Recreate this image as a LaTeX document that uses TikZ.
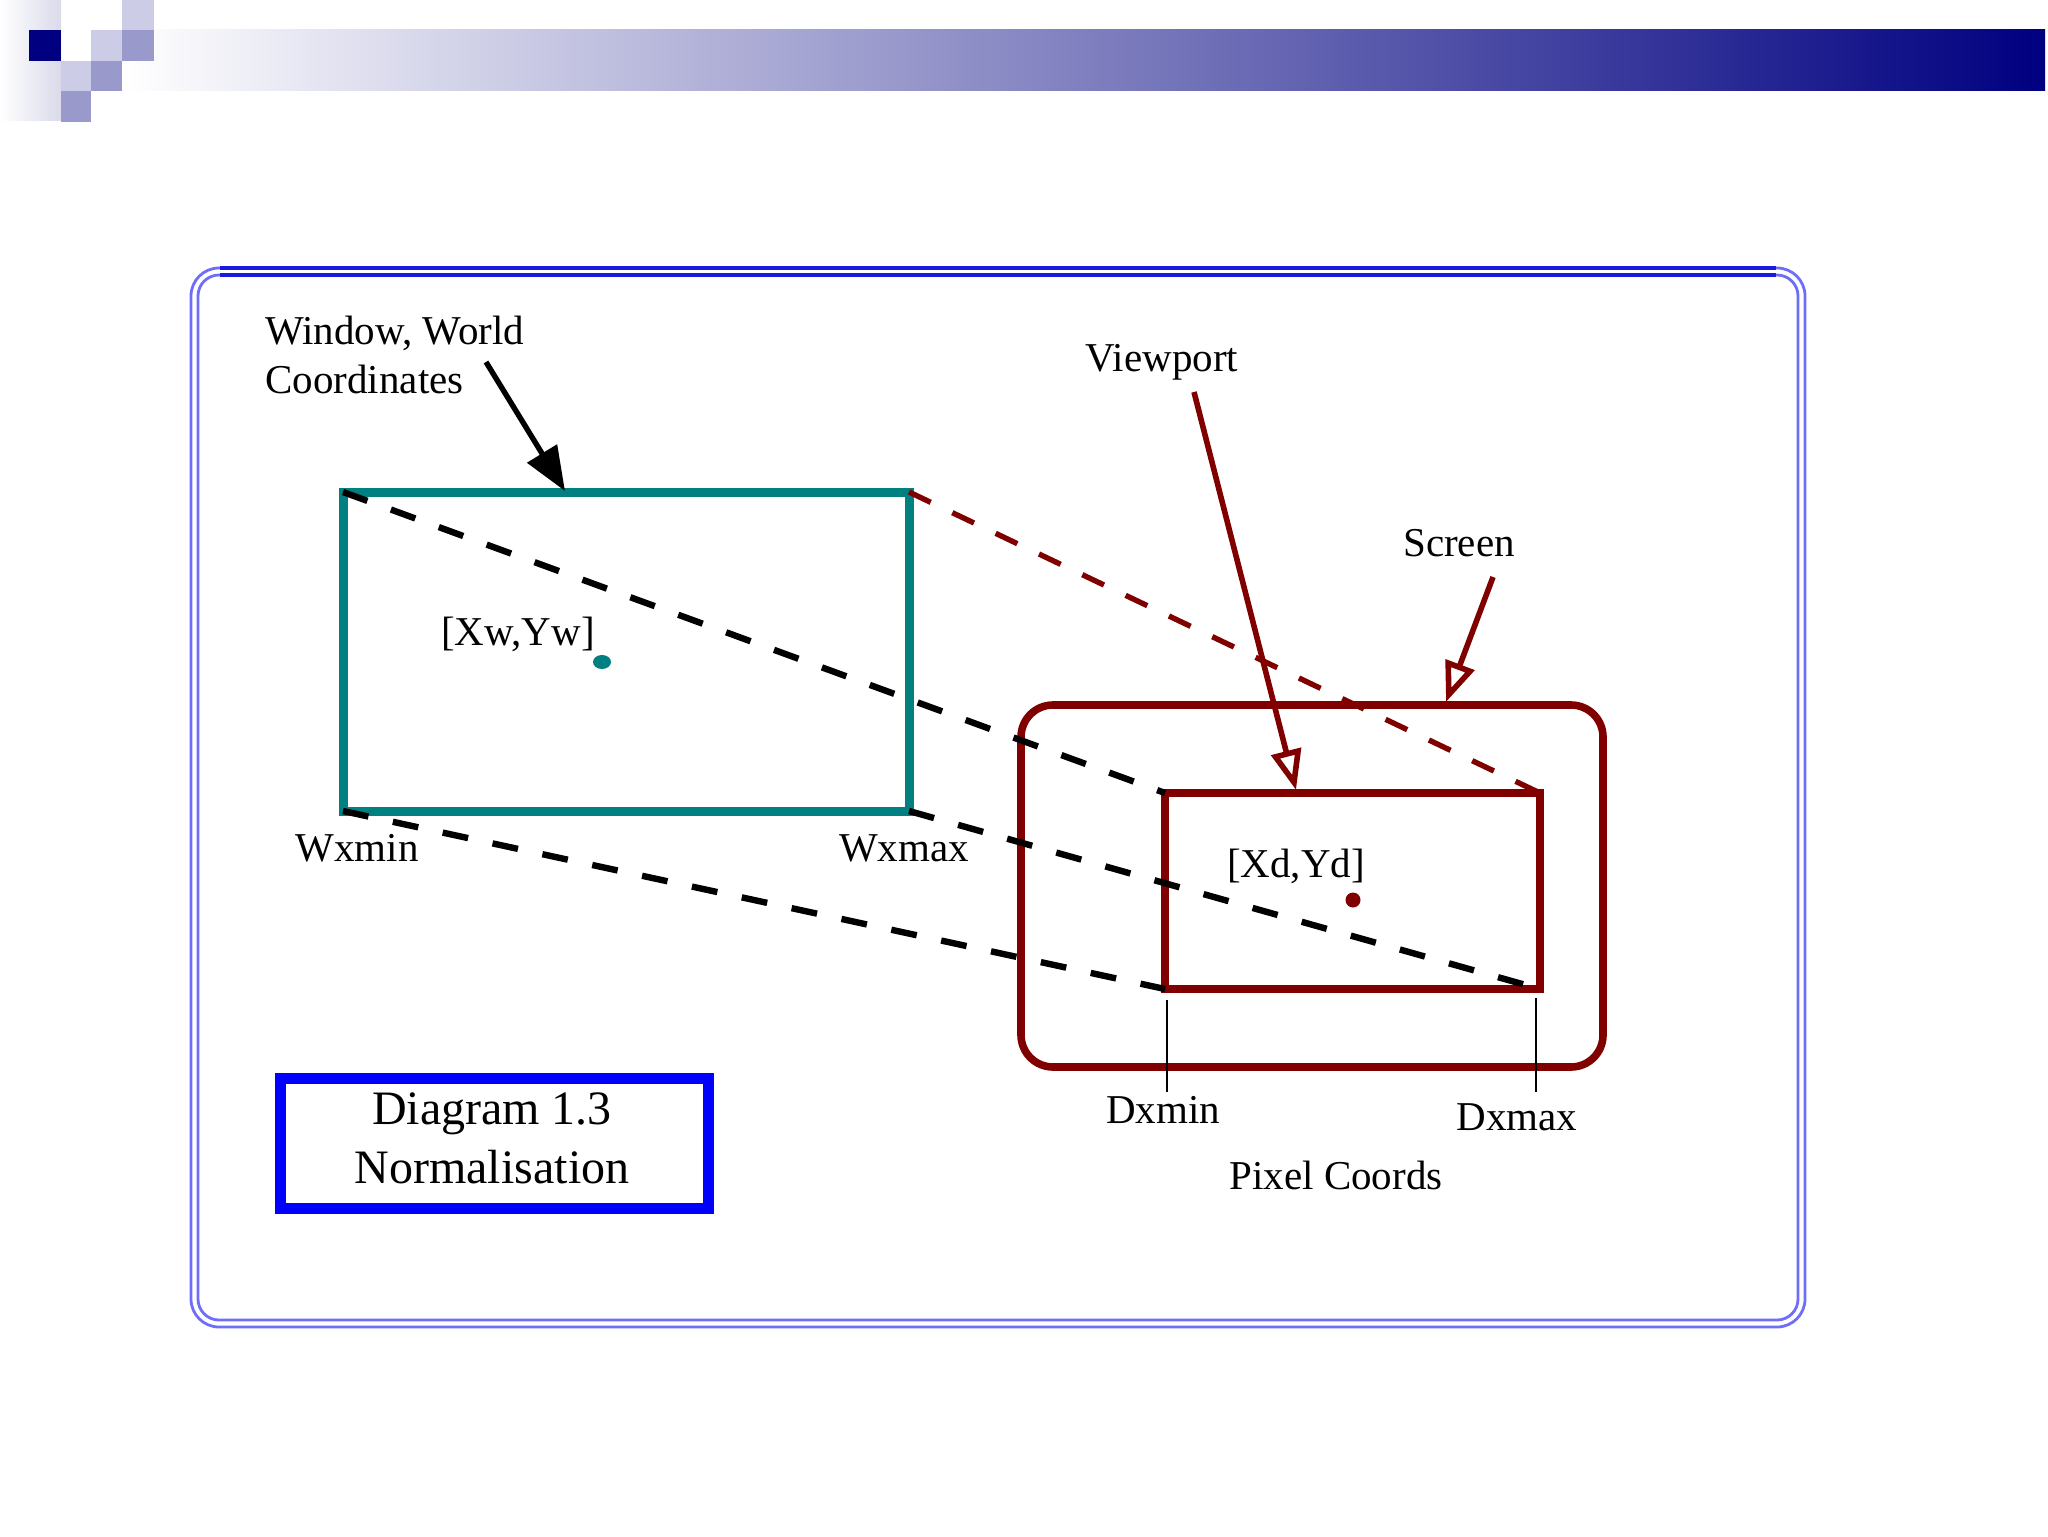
\documentclass[tikz,border=0pt]{standalone}
\usepackage{fontspec}
\setmainfont{Liberation Serif}
\usetikzlibrary{arrows.meta,shapes.geometric}
\definecolor{navyc}{RGB}{0,0,128}
\definecolor{lightsq}{RGB}{204,204,230}
\definecolor{midsq}{RGB}{153,153,204}
\definecolor{fadec}{RGB}{218,218,234}
\definecolor{tealc}{RGB}{0,128,128}
\definecolor{redc}{RGB}{128,0,0}
\definecolor{boxblue}{RGB}{0,0,255}
\definecolor{frameside}{RGB}{110,110,248}
\definecolor{frametop}{RGB}{25,25,228}
\begin{document}
\begin{tikzpicture}[x=0.5pt,y=-0.5pt,
  lbl/.style={font=\fontsize{20.5}{25}\selectfont, inner sep=0pt, anchor=base},
  biglbl/.style={font=\fontsize{24}{29}\selectfont, inner sep=0pt, anchor=base},
  winbox/.style={draw=tealc, line width=4.5pt, inner sep=0pt, outer sep=0pt},
  vpbox/.style={draw=redc, line width=3.8pt, inner sep=0pt, outer sep=0pt},
  scrbox/.style={draw=redc, line width=3.8pt, rounded corners=16pt, inner sep=0pt, outer sep=0pt},
  diagbox/.style={draw=boxblue, line width=5.5pt, inner sep=0pt, outer sep=0pt},
  bdash/.style={draw=black, line width=3.2pt, dash pattern=on 13pt off 12.5pt},
  rdash/.style={draw=redc, line width=2.7pt, dash pattern=on 12pt off 12pt},
  blackarrow/.style={draw=black, line width=2.7pt, -{Triangle[length=22pt, width=17pt]}},
  openarrow/.style={draw=redc, line width=2.8pt, -{Triangle[open, fill=white, length=20pt, width=15pt]}},
  tick/.style={draw=black, line width=1pt},
  dotw/.style={ellipse, fill=tealc, inner sep=0pt, minimum width=9pt, minimum height=7pt},
  dotd/.style={circle, fill=redc, inner sep=0pt, minimum size=7.5pt}
]
\useasboundingbox (0,0) rectangle (2048,1536);
\fill[white] (0,0) rectangle (2048,1536);

% header decoration
\shade[left color=white, right color=fadec] (0,0) rectangle (61,120);
\shade[left color=white, right color=navyc] (122,30) rectangle (2045,91);
\fill[navyc] (29,30) rectangle (61,61);
\fill[lightsq] (122,0) rectangle (154,30);
\fill[lightsq] (91,30) rectangle (122,61);
\fill[midsq] (122,30) rectangle (154,61);
\fill[lightsq] (61,61) rectangle (91,91);
\fill[midsq] (91,61) rectangle (122,91);
\fill[midsq] (61,91) rectangle (91,122);

% outer double frame
\draw[frameside, line width=1.4pt, rounded corners=14pt] (191,268) rectangle (1805,1327);
\draw[frameside, line width=1.4pt, rounded corners=10.5pt] (198,275) rectangle (1798,1320);
\draw[frametop, line width=1.6pt] (220,268) -- (1776,268);
\draw[frametop, line width=1.6pt] (220,275) -- (1776,275);

% boxes
\node[winbox, minimum width=283pt, minimum height=159.5pt] (win) at (626,651.5) {};
\node[scrbox, minimum width=291pt, minimum height=181pt] (scr) at (1312,886) {};
\node[vpbox, minimum width=187.5pt, minimum height=98pt] (vp) at (1352.5,891) {};
\node[diagbox, minimum width=214pt, minimum height=65pt] (diag) at (494,1143) {};

% dots
\node[dotw] (wdot) at (602,662) {};
\node[dotd] (ddot) at (1353,900) {};

% projection lines
\draw[bdash] (win.north west) -- (vp.north west);
\draw[bdash] (win.south west) -- (vp.south west);
\draw[bdash] (win.south east) -- (vp.south east);
\draw[rdash] (win.north east) -- (vp.north east);

% arrow end points
\coordinate (wstart) at (486,362);
\coordinate (wtip) at (565,491);
\coordinate (vstart) at (1194,392);
\coordinate (vtip) at (1296,790);
\coordinate (sstart) at (1493,577);
\coordinate (stip) at (1446,702);
\draw[blackarrow] (wstart) -- (wtip);
\draw[openarrow] (vstart) -- (vtip);
\draw[openarrow] (sstart) -- (stip);

% ticks
\coordinate (t1a) at (1167,1000);
\coordinate (t1b) at (1167,1092);
\coordinate (t2a) at (1536,998);
\coordinate (t2b) at (1536,1092);
\draw[tick] (t1a) -- (t1b);
\draw[tick] (t2a) -- (t2b);

% labels
\node[lbl, anchor=base west] (wwlbl1) at (265,344) {Window, World};
\node[lbl, anchor=base west] (wwlbl2) at (265,393) {Coordinates};
\node[lbl] (vplbl) at (1162,371) {Viewport};
\node[lbl] (scrlbl) at (1459,556) {Screen};
\node[lbl] (xwlbl) at (518,645) {[Xw,Yw]};
\node[lbl] (wxminlbl) at (357,861) {Wxmin};
\node[lbl] (wxmaxlbl) at (904,861) {Wxmax};
\node[lbl] (xdlbl) at (1296,877) {[Xd,Yd]};
\node[lbl] (dxminlbl) at (1163,1123) {Dxmin};
\node[lbl] (dxmaxlbl) at (1517,1130) {Dxmax};
\node[lbl] (pixlbl) at (1336,1189) {Pixel Coords};
\node[biglbl] (diag1) at (492,1124) {Diagram 1.3};
\node[biglbl] (diag2) at (492,1183) {Normalisation};
\end{tikzpicture}
\end{document}
